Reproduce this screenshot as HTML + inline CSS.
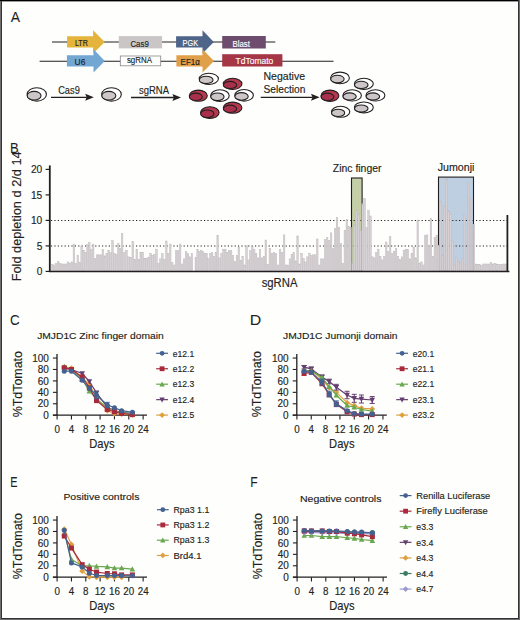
<!DOCTYPE html><html><head><meta charset="utf-8"><style>html,body{margin:0;padding:0;background:#fff;overflow:hidden}svg{display:block}</style></head><body><svg width="520" height="620" viewBox="0 0 520 620" font-family='"Liberation Sans", sans-serif'>
<rect x="0" y="0" width="520" height="620" fill="#fefefd"/>
<text x="10.8" y="21.8" font-size="15.3" fill="#231f20" textLength="9.3" lengthAdjust="spacingAndGlyphs" stroke="#231f20" stroke-width="0.05">A</text>
<line x1="52" y1="42" x2="275.3" y2="42" stroke="#231f20" stroke-width="1.1"/>
<line x1="39.6" y1="61.2" x2="333.5" y2="61.2" stroke="#231f20" stroke-width="1.1"/>
<polygon points="67.1,36.3 93.1,36.3 93.1,30.299999999999997 104.8,41.9 93.1,53.5 93.1,47.5 67.1,47.5" fill="#e4b43c"/>
<polygon points="176.1,36.199999999999996 202.5,36.199999999999996 202.5,30.299999999999997 213.8,41.9 202.5,53.5 202.5,47.6 176.1,47.6" fill="#4e6488"/>
<polygon points="66.9,55.3 93.5,55.3 93.5,49.3 104.8,60.9 93.5,72.5 93.5,66.5 66.9,66.5" fill="#72a6d3"/>
<polygon points="176.4,55.3 202.5,55.3 202.5,49.3 214.0,60.9 202.5,72.5 202.5,66.5 176.4,66.5" fill="#e0a04a"/>
<rect x="118.8" y="36.1" width="43.3" height="12.3" fill="#cac5c7"/>
<rect x="120.3" y="56" width="40.4" height="9.8" fill="#ffffff" stroke="#8a8586" stroke-width="0.8"/>
<rect x="222.2" y="36.0" width="43.6" height="12.5" fill="#6d4c6e"/>
<rect x="222.2" y="54.2" width="60.2" height="12.3" fill="#a43646"/>
<text x="74.9" y="46.2" font-size="9.2" fill="#231f20" textLength="13.0" lengthAdjust="spacingAndGlyphs" stroke="#231f20" stroke-width="0.15">LTR</text>
<text x="130.4" y="46.5" font-size="9.2" fill="#231f20" textLength="18.4" lengthAdjust="spacingAndGlyphs" stroke="#231f20" stroke-width="0.15">Cas9</text>
<text x="182.6" y="46.2" font-size="9.2" fill="#ffffff" textLength="15.4" lengthAdjust="spacingAndGlyphs" stroke="#ffffff" stroke-width="0.15">PGK</text>
<text x="232.5" y="46.5" font-size="9.2" fill="#ffffff" textLength="17.4" lengthAdjust="spacingAndGlyphs" stroke="#ffffff" stroke-width="0.15">Blast</text>
<text x="74.6" y="64.5" font-size="9.2" fill="#231f20" textLength="10.8" lengthAdjust="spacingAndGlyphs" stroke="#231f20" stroke-width="0.15">U6</text>
<text x="126.9" y="63.2" font-size="9.2" fill="#231f20" textLength="25.2" lengthAdjust="spacingAndGlyphs" stroke="#231f20" stroke-width="0.15">sgRNA</text>
<text x="180.6" y="64.7" font-size="9.2" fill="#231f20" textLength="19.2" lengthAdjust="spacingAndGlyphs" stroke="#231f20" stroke-width="0.15">EF1α</text>
<text x="235.6" y="64.3" font-size="9.2" fill="#ffffff" textLength="37.6" lengthAdjust="spacingAndGlyphs" stroke="#ffffff" stroke-width="0.15">TdTomato</text>
<line x1="51" y1="97.3" x2="86.8" y2="97.3" stroke="#231f20" stroke-width="1.3"/>
<polygon points="85.2,93.8 93.8,97.3 85.2,100.8 86.6,97.3" fill="#231f20"/>
<line x1="131" y1="97.5" x2="174" y2="97.5" stroke="#231f20" stroke-width="1.3"/>
<polygon points="172.4,94.0 181,97.5 172.4,101.0 173.8,97.5" fill="#231f20"/>
<line x1="260.7" y1="97.3" x2="312.6" y2="97.3" stroke="#231f20" stroke-width="1.3"/>
<polygon points="311.0,93.8 319.6,97.3 311.0,100.8 312.40000000000003,97.3" fill="#231f20"/>
<text x="58.2" y="93.5" font-size="10.2" fill="#231f20" textLength="21.6" lengthAdjust="spacingAndGlyphs" stroke="#231f20" stroke-width="0.15">Cas9</text>
<text x="139" y="93.5" font-size="10.2" fill="#231f20" textLength="30" lengthAdjust="spacingAndGlyphs" stroke="#231f20" stroke-width="0.15">sgRNA</text>
<text x="263.5" y="80.1" font-size="10.2" fill="#231f20" textLength="41.5" lengthAdjust="spacingAndGlyphs" stroke="#231f20" stroke-width="0.15">Negative</text>
<text x="263.5" y="92.6" font-size="10.2" fill="#231f20" textLength="41.9" lengthAdjust="spacingAndGlyphs" stroke="#231f20" stroke-width="0.15">Selection</text>
<ellipse cx="36.75" cy="94.40" rx="9.65" ry="6.70" fill="#ffffff" stroke="#231f20" stroke-width="1.1"/>
<ellipse cx="34.11" cy="95.70" rx="6.90" ry="4.32" fill="#ccc6c9" stroke="#231f20" stroke-width="1.1"/>
<ellipse cx="111.50" cy="94.40" rx="9.80" ry="6.70" fill="#ffffff" stroke="#231f20" stroke-width="1.1"/>
<ellipse cx="108.82" cy="95.70" rx="7.00" ry="4.32" fill="#ccc6c9" stroke="#231f20" stroke-width="1.1"/>
<ellipse cx="208.80" cy="78.85" rx="9.60" ry="5.65" fill="#ffffff" stroke="#231f20" stroke-width="1.1"/>
<ellipse cx="206.17" cy="79.96" rx="6.87" ry="3.69" fill="#ccc6c9" stroke="#231f20" stroke-width="1.1"/>
<ellipse cx="232.60" cy="83.90" rx="9.30" ry="5.60" fill="#b5384e" stroke="#231f20" stroke-width="1.1"/>
<ellipse cx="230.05" cy="85.00" rx="6.66" ry="3.66" fill="#a8304a" stroke="#231f20" stroke-width="1.1"/>
<ellipse cx="198.30" cy="95.70" rx="9.00" ry="5.60" fill="#b5384e" stroke="#231f20" stroke-width="1.1"/>
<ellipse cx="195.83" cy="96.80" rx="6.46" ry="3.66" fill="#a8304a" stroke="#231f20" stroke-width="1.1"/>
<ellipse cx="219.95" cy="95.65" rx="9.25" ry="5.85" fill="#ffffff" stroke="#231f20" stroke-width="1.1"/>
<ellipse cx="217.41" cy="96.79" rx="6.63" ry="3.81" fill="#ccc6c9" stroke="#231f20" stroke-width="1.1"/>
<ellipse cx="244.10" cy="95.30" rx="9.30" ry="5.80" fill="#ffffff" stroke="#231f20" stroke-width="1.1"/>
<ellipse cx="241.55" cy="96.43" rx="6.66" ry="3.78" fill="#ccc6c9" stroke="#231f20" stroke-width="1.1"/>
<ellipse cx="209.85" cy="112.60" rx="9.25" ry="5.80" fill="#b5384e" stroke="#231f20" stroke-width="1.1"/>
<ellipse cx="207.31" cy="113.73" rx="6.63" ry="3.78" fill="#a8304a" stroke="#231f20" stroke-width="1.1"/>
<ellipse cx="232.60" cy="107.70" rx="9.30" ry="5.60" fill="#b5384e" stroke="#231f20" stroke-width="1.1"/>
<ellipse cx="230.05" cy="108.80" rx="6.66" ry="3.66" fill="#a8304a" stroke="#231f20" stroke-width="1.1"/>
<ellipse cx="329.95" cy="95.75" rx="8.95" ry="5.65" fill="#b5384e" stroke="#231f20" stroke-width="1.1"/>
<ellipse cx="327.49" cy="96.86" rx="6.43" ry="3.69" fill="#a8304a" stroke="#231f20" stroke-width="1.1"/>
<ellipse cx="340.00" cy="77.90" rx="9.40" ry="5.80" fill="#ffffff" stroke="#231f20" stroke-width="1.1"/>
<ellipse cx="337.43" cy="79.03" rx="6.73" ry="3.78" fill="#ccc6c9" stroke="#231f20" stroke-width="1.1"/>
<ellipse cx="363.85" cy="83.85" rx="9.45" ry="5.55" fill="#ffffff" stroke="#231f20" stroke-width="1.1"/>
<ellipse cx="361.26" cy="84.94" rx="6.77" ry="3.63" fill="#ccc6c9" stroke="#231f20" stroke-width="1.1"/>
<ellipse cx="352.15" cy="95.40" rx="9.25" ry="5.60" fill="#ffffff" stroke="#231f20" stroke-width="1.1"/>
<ellipse cx="349.61" cy="96.50" rx="6.63" ry="3.66" fill="#ccc6c9" stroke="#231f20" stroke-width="1.1"/>
<ellipse cx="375.45" cy="95.40" rx="9.45" ry="5.60" fill="#ffffff" stroke="#231f20" stroke-width="1.1"/>
<ellipse cx="372.86" cy="96.50" rx="6.77" ry="3.66" fill="#ccc6c9" stroke="#231f20" stroke-width="1.1"/>
<ellipse cx="340.60" cy="111.80" rx="9.20" ry="5.50" fill="#ffffff" stroke="#231f20" stroke-width="1.1"/>
<ellipse cx="338.08" cy="112.88" rx="6.60" ry="3.60" fill="#ccc6c9" stroke="#231f20" stroke-width="1.1"/>
<ellipse cx="363.85" cy="107.45" rx="9.45" ry="5.45" fill="#ffffff" stroke="#231f20" stroke-width="1.1"/>
<ellipse cx="361.26" cy="108.52" rx="6.77" ry="3.57" fill="#ccc6c9" stroke="#231f20" stroke-width="1.1"/>
<text x="10.0" y="153.2" font-size="15.3" fill="#231f20" textLength="8.7" lengthAdjust="spacingAndGlyphs" stroke="#231f20" stroke-width="0.05">B</text>
<rect x="351.5" y="178" width="10.6" height="93.10000000000002" fill="#c4cfa7" stroke="#231f20" stroke-width="1.1"/>
<rect x="438.5" y="177.1" width="35.0" height="94.00000000000003" fill="#bfcfe2" stroke="#231f20" stroke-width="1.1"/>
<line x1="51" y1="246.0" x2="507" y2="246.0" stroke="#231f20" stroke-width="1" stroke-dasharray="1.2 2.2"/>
<line x1="51" y1="220.5" x2="507" y2="220.5" stroke="#231f20" stroke-width="1" stroke-dasharray="1.2 2.2"/>
<g fill="#d6d1d4" stroke="#bfb9bc" stroke-width="0.45"><rect x="51.52" y="264.47" width="1.56" height="6.63"/><rect x="53.48" y="264.98" width="1.56" height="6.12"/><rect x="55.45" y="263.45" width="1.56" height="7.65"/><rect x="57.41" y="261.41" width="1.56" height="9.69"/><rect x="59.37" y="263.45" width="1.56" height="7.65"/><rect x="61.34" y="263.96" width="1.56" height="7.14"/><rect x="63.30" y="263.96" width="1.56" height="7.14"/><rect x="65.26" y="263.96" width="1.56" height="7.14"/><rect x="67.23" y="261.92" width="1.56" height="9.18"/><rect x="69.19" y="262.94" width="1.56" height="8.16"/><rect x="71.15" y="261.92" width="1.56" height="9.18"/><rect x="73.13" y="244.07" width="1.55" height="27.03"/><rect x="75.06" y="263.45" width="1.53" height="7.65"/><rect x="76.99" y="255.29" width="1.53" height="15.81"/><rect x="78.92" y="262.43" width="1.53" height="8.67"/><rect x="80.85" y="246.11" width="1.53" height="24.99"/><rect x="82.78" y="250.19" width="1.53" height="20.91"/><rect x="84.70" y="252.23" width="1.53" height="18.87"/><rect x="86.63" y="244.58" width="1.53" height="26.52"/><rect x="88.56" y="242.54" width="1.53" height="28.56"/><rect x="90.49" y="249.17" width="1.53" height="21.93"/><rect x="92.42" y="244.07" width="1.53" height="27.03"/><rect x="94.34" y="258.35" width="1.53" height="12.75"/><rect x="96.27" y="254.78" width="1.53" height="16.32"/><rect x="98.20" y="254.78" width="1.53" height="16.32"/><rect x="100.13" y="254.78" width="1.53" height="16.32"/><rect x="102.06" y="249.68" width="1.53" height="21.42"/><rect x="103.98" y="255.80" width="1.53" height="15.30"/><rect x="105.91" y="253.76" width="1.53" height="17.34"/><rect x="107.84" y="250.19" width="1.53" height="20.91"/><rect x="109.77" y="252.74" width="1.53" height="18.36"/><rect x="111.70" y="240.50" width="1.53" height="30.60"/><rect x="113.62" y="253.25" width="1.53" height="17.85"/><rect x="115.55" y="254.27" width="1.53" height="16.83"/><rect x="117.48" y="243.56" width="1.53" height="27.54"/><rect x="119.41" y="248.15" width="1.53" height="22.95"/><rect x="121.28" y="233.36" width="1.63" height="37.74"/><rect x="123.37" y="252.23" width="1.74" height="18.87"/><rect x="125.51" y="250.19" width="1.74" height="20.91"/><rect x="127.65" y="256.82" width="1.74" height="14.28"/><rect x="129.79" y="257.33" width="1.74" height="13.77"/><rect x="131.97" y="241.52" width="1.66" height="29.58"/><rect x="133.99" y="259.37" width="1.57" height="11.73"/><rect x="135.96" y="249.17" width="1.57" height="21.93"/><rect x="137.93" y="259.37" width="1.57" height="11.73"/><rect x="139.90" y="252.23" width="1.57" height="18.87"/><rect x="141.87" y="252.23" width="1.57" height="18.87"/><rect x="143.84" y="258.35" width="1.57" height="12.75"/><rect x="145.81" y="258.35" width="1.57" height="12.75"/><rect x="147.78" y="257.33" width="1.57" height="13.77"/><rect x="149.75" y="253.25" width="1.57" height="17.85"/><rect x="151.72" y="255.29" width="1.57" height="15.81"/><rect x="153.70" y="254.27" width="1.57" height="16.83"/><rect x="155.67" y="249.17" width="1.57" height="21.93"/><rect x="157.64" y="263.45" width="1.57" height="7.65"/><rect x="159.61" y="258.86" width="1.57" height="12.24"/><rect x="161.58" y="253.76" width="1.57" height="17.34"/><rect x="163.55" y="259.37" width="1.57" height="11.73"/><rect x="165.52" y="241.01" width="1.57" height="30.09"/><rect x="167.49" y="253.25" width="1.57" height="17.85"/><rect x="169.46" y="244.07" width="1.57" height="27.03"/><rect x="171.43" y="262.43" width="1.57" height="8.67"/><rect x="173.40" y="264.98" width="1.57" height="6.12"/><rect x="175.38" y="250.70" width="1.57" height="20.40"/><rect x="177.35" y="250.70" width="1.57" height="20.40"/><rect x="179.32" y="244.07" width="1.57" height="27.03"/><rect x="181.29" y="263.96" width="1.57" height="7.14"/><rect x="183.26" y="258.86" width="1.57" height="12.24"/><rect x="185.23" y="251.72" width="1.57" height="19.38"/><rect x="187.20" y="253.76" width="1.57" height="17.34"/><rect x="189.17" y="256.82" width="1.57" height="14.28"/><rect x="191.14" y="253.76" width="1.57" height="17.34"/><rect x="195.01" y="257.33" width="1.42" height="13.77"/><rect x="196.83" y="249.68" width="1.42" height="21.42"/><rect x="198.66" y="251.72" width="1.42" height="19.38"/><rect x="200.48" y="250.19" width="1.42" height="20.91"/><rect x="202.30" y="251.72" width="1.42" height="19.38"/><rect x="204.13" y="253.25" width="1.42" height="17.85"/><rect x="205.95" y="253.76" width="1.42" height="17.34"/><rect x="207.77" y="258.35" width="1.42" height="12.75"/><rect x="209.60" y="253.25" width="1.42" height="17.85"/><rect x="211.42" y="252.74" width="1.42" height="18.36"/><rect x="213.24" y="256.31" width="1.42" height="14.79"/><rect x="215.07" y="252.23" width="1.42" height="18.87"/><rect x="216.86" y="235.40" width="1.48" height="35.70"/><rect x="218.76" y="257.84" width="1.53" height="13.26"/><rect x="220.69" y="253.76" width="1.53" height="17.34"/><rect x="222.62" y="249.17" width="1.53" height="21.93"/><rect x="224.55" y="249.17" width="1.53" height="21.93"/><rect x="226.48" y="252.23" width="1.53" height="18.87"/><rect x="228.40" y="250.70" width="1.53" height="20.40"/><rect x="230.33" y="250.70" width="1.53" height="20.40"/><rect x="232.26" y="255.29" width="1.53" height="15.81"/><rect x="234.19" y="261.41" width="1.53" height="9.69"/><rect x="236.12" y="255.29" width="1.53" height="15.81"/><rect x="238.04" y="247.13" width="1.53" height="23.97"/><rect x="239.97" y="260.39" width="1.53" height="10.71"/><rect x="241.90" y="256.31" width="1.53" height="14.79"/><rect x="243.83" y="264.98" width="1.53" height="6.12"/><rect x="245.76" y="245.60" width="1.53" height="25.50"/><rect x="247.68" y="259.88" width="1.53" height="11.22"/><rect x="249.61" y="250.70" width="1.53" height="20.40"/><rect x="251.54" y="246.62" width="1.53" height="24.48"/><rect x="253.47" y="249.68" width="1.53" height="21.42"/><rect x="255.40" y="253.25" width="1.53" height="17.85"/><rect x="257.32" y="257.84" width="1.53" height="13.26"/><rect x="259.25" y="249.68" width="1.53" height="21.42"/><rect x="261.18" y="257.84" width="1.53" height="13.26"/><rect x="263.11" y="256.31" width="1.53" height="14.79"/><rect x="265.01" y="239.99" width="1.58" height="31.11"/><rect x="267.02" y="264.47" width="1.63" height="6.63"/><rect x="269.05" y="248.15" width="1.63" height="22.95"/><rect x="271.08" y="253.25" width="1.63" height="17.85"/><rect x="273.12" y="252.23" width="1.63" height="18.87"/><rect x="275.15" y="253.76" width="1.63" height="17.34"/><rect x="277.18" y="264.98" width="1.63" height="6.12"/><rect x="279.22" y="249.68" width="1.63" height="21.42"/><rect x="281.25" y="252.23" width="1.63" height="18.87"/><rect x="283.31" y="234.89" width="1.58" height="36.21"/><rect x="285.26" y="264.98" width="1.53" height="6.12"/><rect x="287.19" y="264.98" width="1.53" height="6.12"/><rect x="289.12" y="258.86" width="1.53" height="12.24"/><rect x="291.05" y="254.27" width="1.53" height="16.83"/><rect x="292.98" y="252.74" width="1.53" height="18.36"/><rect x="294.91" y="260.90" width="1.53" height="10.20"/><rect x="296.83" y="235.91" width="1.55" height="35.19"/><rect x="298.78" y="263.96" width="1.57" height="7.14"/><rect x="300.75" y="253.25" width="1.57" height="17.85"/><rect x="302.72" y="258.35" width="1.57" height="12.75"/><rect x="304.69" y="261.92" width="1.57" height="9.18"/><rect x="306.66" y="256.82" width="1.57" height="14.28"/><rect x="308.63" y="253.25" width="1.57" height="17.85"/><rect x="310.60" y="255.29" width="1.57" height="15.81"/><rect x="312.57" y="254.78" width="1.57" height="16.32"/><rect x="314.54" y="254.78" width="1.57" height="16.32"/><rect x="316.50" y="238.97" width="1.57" height="32.13"/><rect x="318.47" y="264.98" width="1.57" height="6.12"/><rect x="320.44" y="258.86" width="1.57" height="12.24"/><rect x="322.41" y="258.86" width="1.57" height="12.24"/><rect x="324.38" y="239.48" width="1.57" height="31.62"/><rect x="326.35" y="237.44" width="1.57" height="33.66"/><rect x="328.32" y="240.50" width="1.57" height="30.60"/><rect x="330.29" y="232.85" width="1.57" height="38.25"/><rect x="332.25" y="248.15" width="1.57" height="22.95"/><rect x="334.22" y="228.77" width="1.57" height="42.33"/><rect x="336.19" y="217.55" width="1.57" height="53.55"/><rect x="338.16" y="227.24" width="1.57" height="43.86"/><rect x="340.13" y="243.56" width="1.57" height="27.54"/><rect x="342.10" y="263.45" width="1.57" height="7.65"/><rect x="344.07" y="230.30" width="1.57" height="40.80"/><rect x="346.04" y="219.59" width="1.57" height="51.51"/><rect x="348.01" y="226.73" width="1.57" height="44.37"/><rect x="349.97" y="227.24" width="1.57" height="43.86"/><rect x="351.94" y="262.94" width="1.57" height="8.16"/><rect x="353.91" y="225.71" width="1.57" height="45.39"/><rect x="355.88" y="209.90" width="1.57" height="61.20"/><rect x="357.85" y="213.98" width="1.57" height="57.12"/><rect x="359.82" y="230.30" width="1.57" height="40.80"/><rect x="361.79" y="203.78" width="1.57" height="67.32"/><rect x="363.76" y="198.68" width="1.57" height="72.42"/><rect x="365.73" y="227.75" width="1.57" height="43.35"/><rect x="367.69" y="210.41" width="1.57" height="60.69"/><rect x="369.66" y="216.02" width="1.57" height="55.08"/><rect x="371.63" y="256.82" width="1.57" height="14.28"/><rect x="373.60" y="257.84" width="1.57" height="13.26"/><rect x="375.57" y="252.23" width="1.57" height="18.87"/><rect x="377.54" y="249.17" width="1.57" height="21.93"/><rect x="379.51" y="256.31" width="1.57" height="14.79"/><rect x="381.48" y="259.88" width="1.57" height="11.22"/><rect x="383.45" y="256.31" width="1.57" height="14.79"/><rect x="385.41" y="242.03" width="1.57" height="29.07"/><rect x="387.38" y="251.72" width="1.57" height="19.38"/><rect x="389.35" y="236.42" width="1.57" height="34.68"/><rect x="391.32" y="253.76" width="1.57" height="17.34"/><rect x="393.29" y="251.21" width="1.57" height="19.89"/><rect x="395.26" y="248.66" width="1.57" height="22.44"/><rect x="397.23" y="256.31" width="1.57" height="14.79"/><rect x="399.20" y="259.37" width="1.57" height="11.73"/><rect x="401.16" y="256.82" width="1.57" height="14.28"/><rect x="403.13" y="250.19" width="1.57" height="20.91"/><rect x="405.10" y="249.17" width="1.57" height="21.93"/><rect x="407.07" y="249.17" width="1.57" height="21.93"/><rect x="409.04" y="258.86" width="1.57" height="12.24"/><rect x="411.01" y="253.25" width="1.57" height="17.85"/><rect x="412.98" y="247.13" width="1.57" height="23.97"/><rect x="414.95" y="257.84" width="1.57" height="13.26"/><rect x="416.94" y="220.10" width="1.53" height="51.00"/><rect x="418.84" y="263.45" width="1.49" height="7.65"/><rect x="420.73" y="261.92" width="1.49" height="9.18"/><rect x="422.61" y="264.98" width="1.49" height="6.12"/><rect x="424.50" y="235.40" width="1.49" height="35.70"/><rect x="426.39" y="234.89" width="1.49" height="36.21"/><rect x="428.27" y="246.11" width="1.49" height="24.99"/><rect x="430.14" y="218.57" width="1.52" height="52.53"/><rect x="432.08" y="256.31" width="1.56" height="14.79"/><rect x="434.04" y="237.44" width="1.56" height="33.66"/><rect x="436.01" y="235.40" width="1.56" height="35.70"/><rect x="437.97" y="245.60" width="1.56" height="25.50"/><rect x="439.93" y="201.23" width="1.56" height="69.87"/><rect x="441.89" y="254.78" width="1.56" height="16.32"/><rect x="443.86" y="205.82" width="1.56" height="65.28"/><rect x="445.82" y="178.79" width="1.56" height="92.31"/><rect x="447.78" y="210.92" width="1.56" height="60.18"/><rect x="449.75" y="213.98" width="1.56" height="57.12"/><rect x="451.71" y="241.01" width="1.56" height="30.09"/><rect x="453.67" y="264.98" width="1.56" height="6.12"/><rect x="455.64" y="257.84" width="1.56" height="13.26"/><rect x="457.60" y="261.41" width="1.56" height="9.69"/><rect x="459.56" y="262.43" width="1.56" height="8.67"/><rect x="461.53" y="258.86" width="1.56" height="12.24"/><rect x="463.49" y="215.00" width="1.56" height="56.10"/><rect x="465.45" y="264.98" width="1.56" height="6.12"/><rect x="467.44" y="181.85" width="1.53" height="89.25"/><rect x="469.34" y="198.17" width="1.49" height="72.93"/><rect x="471.24" y="226.73" width="1.49" height="44.37"/><rect x="473.12" y="224.18" width="1.49" height="46.92"/><rect x="475.01" y="263.96" width="1.49" height="7.14"/><rect x="476.90" y="264.47" width="1.49" height="6.63"/><rect x="478.79" y="264.47" width="1.49" height="6.63"/><rect x="480.69" y="265.49" width="1.49" height="5.61"/><rect x="482.57" y="263.96" width="1.49" height="7.14"/><rect x="484.46" y="263.96" width="1.49" height="7.14"/><rect x="486.36" y="263.96" width="1.49" height="7.14"/><rect x="488.25" y="263.96" width="1.49" height="7.14"/><rect x="490.13" y="262.43" width="1.49" height="8.67"/><rect x="492.02" y="263.96" width="1.49" height="7.14"/><rect x="493.91" y="263.45" width="1.49" height="7.65"/><rect x="495.81" y="263.96" width="1.49" height="7.14"/><rect x="497.69" y="264.47" width="1.49" height="6.63"/><rect x="499.58" y="264.47" width="1.49" height="6.63"/><rect x="501.48" y="264.47" width="1.49" height="6.63"/><rect x="503.37" y="263.96" width="1.49" height="7.14"/><rect x="505.25" y="263.96" width="1.49" height="7.14"/></g>
<line x1="49.8" y1="165.4" x2="49.8" y2="271.70000000000005" stroke="#231f20" stroke-width="1.8"/>
<line x1="49" y1="271.5" x2="509.4" y2="271.5" stroke="#231f20" stroke-width="1.3"/>
<line x1="507.4" y1="215" x2="507.4" y2="271.1" stroke="#231f20" stroke-width="1.8"/>
<line x1="45.6" y1="271.4" x2="50" y2="271.4" stroke="#231f20" stroke-width="1.2"/>
<text x="42.3" y="275.00000000000006" font-size="10.2" fill="#231f20" text-anchor="end" stroke="#231f20" stroke-width="0.15">0</text>
<line x1="45.6" y1="245.9" x2="50" y2="245.9" stroke="#231f20" stroke-width="1.2"/>
<text x="42.3" y="249.50000000000003" font-size="10.2" fill="#231f20" text-anchor="end" stroke="#231f20" stroke-width="0.15">5</text>
<line x1="45.6" y1="220.4" x2="50" y2="220.4" stroke="#231f20" stroke-width="1.2"/>
<text x="42.3" y="224.00000000000003" font-size="10.2" fill="#231f20" text-anchor="end" stroke="#231f20" stroke-width="0.15">10</text>
<line x1="45.6" y1="194.9" x2="50" y2="194.9" stroke="#231f20" stroke-width="1.2"/>
<text x="42.3" y="198.50000000000003" font-size="10.2" fill="#231f20" text-anchor="end" stroke="#231f20" stroke-width="0.15">15</text>
<line x1="45.6" y1="169.4" x2="50" y2="169.4" stroke="#231f20" stroke-width="1.2"/>
<text x="42.3" y="173.00000000000003" font-size="10.2" fill="#231f20" text-anchor="end" stroke="#231f20" stroke-width="0.15">20</text>
<text transform="translate(21.4,281.3) rotate(-90)" font-size="13" fill="#231f20" stroke="#231f20" stroke-width="0.15" textLength="130" lengthAdjust="spacingAndGlyphs">Fold depletion d 2/d 14</text>
<text x="332.8" y="172.3" font-size="10" fill="#231f20" textLength="48.7" lengthAdjust="spacingAndGlyphs" stroke="#231f20" stroke-width="0.15">Zinc finger</text>
<text x="437.7" y="171.3" font-size="10" fill="#231f20" textLength="36.7" lengthAdjust="spacingAndGlyphs" stroke="#231f20" stroke-width="0.15">Jumonji</text>
<text x="261.7" y="287.2" font-size="12.3" fill="#231f20" textLength="35.8" lengthAdjust="spacingAndGlyphs" stroke="#231f20" stroke-width="0.15">sgRNA</text>
<text x="9.9" y="325.1" font-size="15.3" fill="#231f20" textLength="9.65" lengthAdjust="spacingAndGlyphs" stroke="#231f20" stroke-width="0.05">C</text>
<text x="37.2" y="338.8" font-size="9.5" fill="#231f20" textLength="126.5" lengthAdjust="spacingAndGlyphs" stroke="#231f20" stroke-width="0.15">JMJD1C Zinc finger domain</text>
<line x1="57.0" y1="354.0" x2="57.0" y2="415.8" stroke="#231f20" stroke-width="1.3"/>
<line x1="52.9" y1="415.2" x2="147.0" y2="415.2" stroke="#231f20" stroke-width="1.3"/>
<line x1="52.9" y1="415.20" x2="57.0" y2="415.20" stroke="#231f20" stroke-width="1.1"/>
<text x="48.8" y="418.8" font-size="10" fill="#231f20" text-anchor="end" textLength="5.55" lengthAdjust="spacingAndGlyphs" stroke="#231f20" stroke-width="0.15">0</text>
<line x1="52.9" y1="403.77" x2="57.0" y2="403.77" stroke="#231f20" stroke-width="1.1"/>
<text x="48.8" y="407.37" font-size="10" fill="#231f20" text-anchor="end" textLength="11.1" lengthAdjust="spacingAndGlyphs" stroke="#231f20" stroke-width="0.15">20</text>
<line x1="52.9" y1="392.34" x2="57.0" y2="392.34" stroke="#231f20" stroke-width="1.1"/>
<text x="48.8" y="395.94" font-size="10" fill="#231f20" text-anchor="end" textLength="11.1" lengthAdjust="spacingAndGlyphs" stroke="#231f20" stroke-width="0.15">40</text>
<line x1="52.9" y1="380.91" x2="57.0" y2="380.91" stroke="#231f20" stroke-width="1.1"/>
<text x="48.8" y="384.51" font-size="10" fill="#231f20" text-anchor="end" textLength="11.1" lengthAdjust="spacingAndGlyphs" stroke="#231f20" stroke-width="0.15">60</text>
<line x1="52.9" y1="369.48" x2="57.0" y2="369.48" stroke="#231f20" stroke-width="1.1"/>
<text x="48.8" y="373.08000000000004" font-size="10" fill="#231f20" text-anchor="end" textLength="11.1" lengthAdjust="spacingAndGlyphs" stroke="#231f20" stroke-width="0.15">80</text>
<line x1="52.9" y1="358.05" x2="57.0" y2="358.05" stroke="#231f20" stroke-width="1.1"/>
<text x="48.8" y="361.65000000000003" font-size="10" fill="#231f20" text-anchor="end" textLength="16.65" lengthAdjust="spacingAndGlyphs" stroke="#231f20" stroke-width="0.15">100</text>
<line x1="57.10" y1="415.2" x2="57.10" y2="419.4" stroke="#231f20" stroke-width="1.1"/>
<text x="57.1" y="432.8" font-size="10" fill="#231f20" text-anchor="middle" textLength="5.45" lengthAdjust="spacingAndGlyphs" stroke="#231f20" stroke-width="0.15">0</text>
<line x1="71.44" y1="415.2" x2="71.44" y2="419.4" stroke="#231f20" stroke-width="1.1"/>
<text x="71.44" y="432.8" font-size="10" fill="#231f20" text-anchor="middle" textLength="5.45" lengthAdjust="spacingAndGlyphs" stroke="#231f20" stroke-width="0.15">4</text>
<line x1="85.78" y1="415.2" x2="85.78" y2="419.4" stroke="#231f20" stroke-width="1.1"/>
<text x="85.78" y="432.8" font-size="10" fill="#231f20" text-anchor="middle" textLength="5.45" lengthAdjust="spacingAndGlyphs" stroke="#231f20" stroke-width="0.15">8</text>
<line x1="100.12" y1="415.2" x2="100.12" y2="419.4" stroke="#231f20" stroke-width="1.1"/>
<text x="100.12" y="432.8" font-size="10" fill="#231f20" text-anchor="middle" textLength="10.9" lengthAdjust="spacingAndGlyphs" stroke="#231f20" stroke-width="0.15">12</text>
<line x1="114.46" y1="415.2" x2="114.46" y2="419.4" stroke="#231f20" stroke-width="1.1"/>
<text x="114.46000000000001" y="432.8" font-size="10" fill="#231f20" text-anchor="middle" textLength="10.9" lengthAdjust="spacingAndGlyphs" stroke="#231f20" stroke-width="0.15">16</text>
<line x1="128.80" y1="415.2" x2="128.80" y2="419.4" stroke="#231f20" stroke-width="1.1"/>
<text x="128.8" y="432.8" font-size="10" fill="#231f20" text-anchor="middle" textLength="10.9" lengthAdjust="spacingAndGlyphs" stroke="#231f20" stroke-width="0.15">20</text>
<line x1="143.14" y1="415.2" x2="143.14" y2="419.4" stroke="#231f20" stroke-width="1.1"/>
<text x="143.14" y="432.8" font-size="10" fill="#231f20" text-anchor="middle" textLength="10.9" lengthAdjust="spacingAndGlyphs" stroke="#231f20" stroke-width="0.15">24</text>
<text x="89.3" y="447.7" font-size="12.7" fill="#231f20" textLength="25.4" lengthAdjust="spacingAndGlyphs" stroke="#231f20" stroke-width="0.15">Days</text>
<text transform="translate(21.6,417.3) rotate(-90)" font-size="12" fill="#231f20" stroke="#231f20" stroke-width="0.15" textLength="66.2" lengthAdjust="spacingAndGlyphs">%TdTomato</text>
<polyline points="64.27,367.19 71.44,368.34 82.19,378.05 89.37,384.34 96.53,398.06 107.29,410.63 114.46,413.49 121.63,414.06 132.38,414.63" fill="none" stroke="#e0a040" stroke-width="1.2" stroke-linejoin="round"/>
<polygon points="64.27,364.19 67.27,367.19 64.27,370.19 61.27,367.19" fill="#e0a040"/><polygon points="71.44,365.34 74.44,368.34 71.44,371.34 68.44,368.34" fill="#e0a040"/><polygon points="82.19,375.05 85.19,378.05 82.19,381.05 79.19,378.05" fill="#e0a040"/><polygon points="89.37,381.34 92.37,384.34 89.37,387.34 86.37,384.34" fill="#e0a040"/><polygon points="96.53,395.06 99.53,398.06 96.53,401.06 93.53,398.06" fill="#e0a040"/><polygon points="107.29,407.63 110.29,410.63 107.29,413.63 104.29,410.63" fill="#e0a040"/><polygon points="114.46,410.49 117.46,413.49 114.46,416.49 111.46,413.49" fill="#e0a040"/><polygon points="121.63,411.06 124.63,414.06 121.63,417.06 118.63,414.06" fill="#e0a040"/><polygon points="132.38,411.63 135.38,414.63 132.38,417.63 129.38,414.63" fill="#e0a040"/>
<polyline points="64.27,368.34 71.44,369.48 82.19,373.48 89.37,381.48 96.53,392.91 107.29,407.20 114.46,410.63 121.63,412.34 132.38,413.49" fill="none" stroke="#643f70" stroke-width="1.2" stroke-linejoin="round"/>
<polygon points="64.27,371.24 67.07,366.04 61.47,366.04" fill="#643f70"/><polygon points="71.44,372.38 74.24,367.18 68.64,367.18" fill="#643f70"/><polygon points="82.19,376.38 84.99,371.18 79.39,371.18" fill="#643f70"/><polygon points="89.37,384.38 92.17,379.18 86.57,379.18" fill="#643f70"/><polygon points="96.53,395.81 99.33,390.61 93.73,390.61" fill="#643f70"/><polygon points="107.29,410.10 110.09,404.90 104.49,404.90" fill="#643f70"/><polygon points="114.46,413.53 117.26,408.33 111.66,408.33" fill="#643f70"/><polygon points="121.63,415.24 124.43,410.04 118.83,410.04" fill="#643f70"/><polygon points="132.38,416.39 135.19,411.19 129.58,411.19" fill="#643f70"/>
<polyline points="64.27,366.62 71.44,369.48 82.19,379.20 89.37,391.20 96.53,399.20 107.29,407.77 114.46,411.20 121.63,412.91 132.38,414.06" fill="none" stroke="#6aa84f" stroke-width="1.2" stroke-linejoin="round"/>
<polygon points="64.27,363.72 67.07,368.92 61.47,368.92" fill="#6aa84f"/><polygon points="71.44,366.58 74.24,371.78 68.64,371.78" fill="#6aa84f"/><polygon points="82.19,376.30 84.99,381.50 79.39,381.50" fill="#6aa84f"/><polygon points="89.37,388.30 92.17,393.50 86.57,393.50" fill="#6aa84f"/><polygon points="96.53,396.30 99.33,401.50 93.73,401.50" fill="#6aa84f"/><polygon points="107.29,404.87 110.09,410.07 104.49,410.07" fill="#6aa84f"/><polygon points="114.46,408.30 117.26,413.50 111.66,413.50" fill="#6aa84f"/><polygon points="121.63,410.01 124.43,415.21 118.83,415.21" fill="#6aa84f"/><polygon points="132.38,411.16 135.19,416.36 129.58,416.36" fill="#6aa84f"/>
<polyline points="64.27,367.77 71.44,369.48 82.19,376.91 89.37,387.77 96.53,400.63 107.29,409.49 114.46,411.77 121.63,413.49 132.38,414.63" fill="none" stroke="#a82a3c" stroke-width="1.2" stroke-linejoin="round"/>
<rect x="61.77" y="365.27" width="5.00" height="5.00" fill="#a82a3c"/><rect x="68.94" y="366.98" width="5.00" height="5.00" fill="#a82a3c"/><rect x="79.69" y="374.41" width="5.00" height="5.00" fill="#a82a3c"/><rect x="86.87" y="385.27" width="5.00" height="5.00" fill="#a82a3c"/><rect x="94.03" y="398.13" width="5.00" height="5.00" fill="#a82a3c"/><rect x="104.79" y="406.99" width="5.00" height="5.00" fill="#a82a3c"/><rect x="111.96" y="409.27" width="5.00" height="5.00" fill="#a82a3c"/><rect x="119.13" y="410.99" width="5.00" height="5.00" fill="#a82a3c"/><rect x="129.88" y="412.13" width="5.00" height="5.00" fill="#a82a3c"/>
<polyline points="64.27,371.19 71.44,371.19 82.19,380.34 89.37,388.34 96.53,395.20 107.29,404.91 114.46,407.77 121.63,410.63 132.38,412.34" fill="none" stroke="#44618f" stroke-width="1.2" stroke-linejoin="round"/>
<path d="M82.19,379.20V381.48M79.69,379.20h5M79.69,381.48h5" stroke="#44618f" stroke-width="1" fill="none"/>
<path d="M89.37,386.62V390.05M86.87,386.62h5M86.87,390.05h5" stroke="#44618f" stroke-width="1" fill="none"/>
<path d="M96.53,391.77V398.63M94.03,391.77h5M94.03,398.63h5" stroke="#44618f" stroke-width="1" fill="none"/>
<path d="M107.29,402.34V407.48M104.79,402.34h5M104.79,407.48h5" stroke="#44618f" stroke-width="1" fill="none"/>
<circle cx="64.27" cy="371.19" r="2.5" fill="#44618f"/><circle cx="71.44" cy="371.19" r="2.5" fill="#44618f"/><circle cx="82.19" cy="380.34" r="2.5" fill="#44618f"/><circle cx="89.37" cy="388.34" r="2.5" fill="#44618f"/><circle cx="96.53" cy="395.20" r="2.5" fill="#44618f"/><circle cx="107.29" cy="404.91" r="2.5" fill="#44618f"/><circle cx="114.46" cy="407.77" r="2.5" fill="#44618f"/><circle cx="121.63" cy="410.63" r="2.5" fill="#44618f"/><circle cx="132.38" cy="412.34" r="2.5" fill="#44618f"/>
<line x1="156.2" y1="353.30" x2="168.0" y2="353.30" stroke="#44618f" stroke-width="1.2"/>
<circle cx="162.10" cy="353.30" r="2.4" fill="#44618f"/>
<text x="172.79999999999998" y="356.5" font-size="9.5" fill="#231f20" textLength="21.4" lengthAdjust="spacingAndGlyphs" stroke="#231f20" stroke-width="0.15">e12.1</text>
<line x1="156.2" y1="368.75" x2="168.0" y2="368.75" stroke="#a82a3c" stroke-width="1.2"/>
<rect x="159.70" y="366.35" width="4.80" height="4.80" fill="#a82a3c"/>
<text x="172.79999999999998" y="371.95" font-size="9.5" fill="#231f20" textLength="21.4" lengthAdjust="spacingAndGlyphs" stroke="#231f20" stroke-width="0.15">e12.2</text>
<line x1="156.2" y1="384.20" x2="168.0" y2="384.20" stroke="#6aa84f" stroke-width="1.2"/>
<polygon points="162.10,381.40 164.80,386.40 159.40,386.40" fill="#6aa84f"/>
<text x="172.79999999999998" y="387.4" font-size="9.5" fill="#231f20" textLength="21.4" lengthAdjust="spacingAndGlyphs" stroke="#231f20" stroke-width="0.15">e12.3</text>
<line x1="156.2" y1="399.65" x2="168.0" y2="399.65" stroke="#643f70" stroke-width="1.2"/>
<polygon points="162.10,402.45 164.80,397.45 159.40,397.45" fill="#643f70"/>
<text x="172.79999999999998" y="402.84999999999997" font-size="9.5" fill="#231f20" textLength="21.4" lengthAdjust="spacingAndGlyphs" stroke="#231f20" stroke-width="0.15">e12.4</text>
<line x1="156.2" y1="415.10" x2="168.0" y2="415.10" stroke="#e0a040" stroke-width="1.2"/>
<polygon points="162.10,412.20 165.00,415.10 162.10,418.00 159.20,415.10" fill="#e0a040"/>
<text x="172.79999999999998" y="418.3" font-size="9.5" fill="#231f20" textLength="21.4" lengthAdjust="spacingAndGlyphs" stroke="#231f20" stroke-width="0.15">e12.5</text>
<text x="249.85" y="325.0" font-size="15.3" fill="#231f20" textLength="11.5" lengthAdjust="spacingAndGlyphs" stroke="#231f20" stroke-width="0.05">D</text>
<text x="283.0" y="338.6" font-size="9.5" fill="#231f20" textLength="114.5" lengthAdjust="spacingAndGlyphs" stroke="#231f20" stroke-width="0.15">JMJD1C Jumonji domain</text>
<line x1="296.8" y1="354.0" x2="296.8" y2="415.8" stroke="#231f20" stroke-width="1.3"/>
<line x1="292.7" y1="415.2" x2="386.8" y2="415.2" stroke="#231f20" stroke-width="1.3"/>
<line x1="292.7" y1="415.20" x2="296.8" y2="415.20" stroke="#231f20" stroke-width="1.1"/>
<text x="288.6" y="418.8" font-size="10" fill="#231f20" text-anchor="end" textLength="5.55" lengthAdjust="spacingAndGlyphs" stroke="#231f20" stroke-width="0.15">0</text>
<line x1="292.7" y1="403.77" x2="296.8" y2="403.77" stroke="#231f20" stroke-width="1.1"/>
<text x="288.6" y="407.37" font-size="10" fill="#231f20" text-anchor="end" textLength="11.1" lengthAdjust="spacingAndGlyphs" stroke="#231f20" stroke-width="0.15">20</text>
<line x1="292.7" y1="392.34" x2="296.8" y2="392.34" stroke="#231f20" stroke-width="1.1"/>
<text x="288.6" y="395.94" font-size="10" fill="#231f20" text-anchor="end" textLength="11.1" lengthAdjust="spacingAndGlyphs" stroke="#231f20" stroke-width="0.15">40</text>
<line x1="292.7" y1="380.91" x2="296.8" y2="380.91" stroke="#231f20" stroke-width="1.1"/>
<text x="288.6" y="384.51" font-size="10" fill="#231f20" text-anchor="end" textLength="11.1" lengthAdjust="spacingAndGlyphs" stroke="#231f20" stroke-width="0.15">60</text>
<line x1="292.7" y1="369.48" x2="296.8" y2="369.48" stroke="#231f20" stroke-width="1.1"/>
<text x="288.6" y="373.08000000000004" font-size="10" fill="#231f20" text-anchor="end" textLength="11.1" lengthAdjust="spacingAndGlyphs" stroke="#231f20" stroke-width="0.15">80</text>
<line x1="292.7" y1="358.05" x2="296.8" y2="358.05" stroke="#231f20" stroke-width="1.1"/>
<text x="288.6" y="361.65000000000003" font-size="10" fill="#231f20" text-anchor="end" textLength="16.65" lengthAdjust="spacingAndGlyphs" stroke="#231f20" stroke-width="0.15">100</text>
<line x1="296.90" y1="415.2" x2="296.90" y2="419.4" stroke="#231f20" stroke-width="1.1"/>
<text x="296.90000000000003" y="432.8" font-size="10" fill="#231f20" text-anchor="middle" textLength="5.45" lengthAdjust="spacingAndGlyphs" stroke="#231f20" stroke-width="0.15">0</text>
<line x1="311.24" y1="415.2" x2="311.24" y2="419.4" stroke="#231f20" stroke-width="1.1"/>
<text x="311.24" y="432.8" font-size="10" fill="#231f20" text-anchor="middle" textLength="5.45" lengthAdjust="spacingAndGlyphs" stroke="#231f20" stroke-width="0.15">4</text>
<line x1="325.58" y1="415.2" x2="325.58" y2="419.4" stroke="#231f20" stroke-width="1.1"/>
<text x="325.58000000000004" y="432.8" font-size="10" fill="#231f20" text-anchor="middle" textLength="5.45" lengthAdjust="spacingAndGlyphs" stroke="#231f20" stroke-width="0.15">8</text>
<line x1="339.92" y1="415.2" x2="339.92" y2="419.4" stroke="#231f20" stroke-width="1.1"/>
<text x="339.92" y="432.8" font-size="10" fill="#231f20" text-anchor="middle" textLength="10.9" lengthAdjust="spacingAndGlyphs" stroke="#231f20" stroke-width="0.15">12</text>
<line x1="354.26" y1="415.2" x2="354.26" y2="419.4" stroke="#231f20" stroke-width="1.1"/>
<text x="354.26000000000005" y="432.8" font-size="10" fill="#231f20" text-anchor="middle" textLength="10.9" lengthAdjust="spacingAndGlyphs" stroke="#231f20" stroke-width="0.15">16</text>
<line x1="368.60" y1="415.2" x2="368.60" y2="419.4" stroke="#231f20" stroke-width="1.1"/>
<text x="368.6" y="432.8" font-size="10" fill="#231f20" text-anchor="middle" textLength="10.9" lengthAdjust="spacingAndGlyphs" stroke="#231f20" stroke-width="0.15">20</text>
<line x1="382.94" y1="415.2" x2="382.94" y2="419.4" stroke="#231f20" stroke-width="1.1"/>
<text x="382.94000000000005" y="432.8" font-size="10" fill="#231f20" text-anchor="middle" textLength="10.9" lengthAdjust="spacingAndGlyphs" stroke="#231f20" stroke-width="0.15">24</text>
<text x="329.1" y="447.7" font-size="12.7" fill="#231f20" textLength="25.4" lengthAdjust="spacingAndGlyphs" stroke="#231f20" stroke-width="0.15">Days</text>
<text transform="translate(261.4,417.3) rotate(-90)" font-size="12" fill="#231f20" stroke="#231f20" stroke-width="0.15" textLength="66.2" lengthAdjust="spacingAndGlyphs">%TdTomato</text>
<polyline points="304.07,370.62 311.24,370.62 322.00,379.20 329.17,387.77 336.34,392.34 347.09,402.63 354.26,405.48 361.43,408.34 372.19,408.91" fill="none" stroke="#e0a040" stroke-width="1.2" stroke-linejoin="round"/>
<polygon points="304.07,367.62 307.07,370.62 304.07,373.62 301.07,370.62" fill="#e0a040"/><polygon points="311.24,367.62 314.24,370.62 311.24,373.62 308.24,370.62" fill="#e0a040"/><polygon points="322.00,376.20 325.00,379.20 322.00,382.20 319.00,379.20" fill="#e0a040"/><polygon points="329.17,384.77 332.17,387.77 329.17,390.77 326.17,387.77" fill="#e0a040"/><polygon points="336.34,389.34 339.34,392.34 336.34,395.34 333.34,392.34" fill="#e0a040"/><polygon points="347.09,399.63 350.09,402.63 347.09,405.63 344.09,402.63" fill="#e0a040"/><polygon points="354.26,402.48 357.26,405.48 354.26,408.48 351.26,405.48" fill="#e0a040"/><polygon points="361.43,405.34 364.43,408.34 361.43,411.34 358.43,408.34" fill="#e0a040"/><polygon points="372.19,405.91 375.19,408.91 372.19,411.91 369.19,408.91" fill="#e0a040"/>
<polyline points="304.07,367.19 311.24,368.91 322.00,376.91 329.17,381.48 336.34,387.20 347.09,395.03 354.26,398.34 361.43,399.03 372.19,400.00" fill="none" stroke="#643f70" stroke-width="1.2" stroke-linejoin="round"/>
<path d="M304.07,365.48V368.91M301.57,365.48h5M301.57,368.91h5" stroke="#643f70" stroke-width="1" fill="none"/>
<path d="M311.24,367.19V370.62M308.74,367.19h5M308.74,370.62h5" stroke="#643f70" stroke-width="1" fill="none"/>
<path d="M322.00,375.19V378.62M319.50,375.19h5M319.50,378.62h5" stroke="#643f70" stroke-width="1" fill="none"/>
<path d="M329.17,379.20V383.77M326.67,379.20h5M326.67,383.77h5" stroke="#643f70" stroke-width="1" fill="none"/>
<path d="M336.34,384.34V390.05M333.84,384.34h5M333.84,390.05h5" stroke="#643f70" stroke-width="1" fill="none"/>
<path d="M347.09,391.31V398.74M344.59,391.31h5M344.59,398.74h5" stroke="#643f70" stroke-width="1" fill="none"/>
<path d="M354.26,394.34V402.34M351.76,394.34h5M351.76,402.34h5" stroke="#643f70" stroke-width="1" fill="none"/>
<path d="M361.43,395.03V403.03M358.93,395.03h5M358.93,403.03h5" stroke="#643f70" stroke-width="1" fill="none"/>
<path d="M372.19,396.57V403.43M369.69,396.57h5M369.69,403.43h5" stroke="#643f70" stroke-width="1" fill="none"/>
<polygon points="304.07,370.09 306.87,364.89 301.27,364.89" fill="#643f70"/><polygon points="311.24,371.81 314.04,366.61 308.44,366.61" fill="#643f70"/><polygon points="322.00,379.81 324.80,374.61 319.19,374.61" fill="#643f70"/><polygon points="329.17,384.38 331.97,379.18 326.37,379.18" fill="#643f70"/><polygon points="336.34,390.10 339.14,384.90 333.54,384.90" fill="#643f70"/><polygon points="347.09,397.93 349.89,392.73 344.29,392.73" fill="#643f70"/><polygon points="354.26,401.24 357.06,396.04 351.46,396.04" fill="#643f70"/><polygon points="361.43,401.93 364.23,396.73 358.63,396.73" fill="#643f70"/><polygon points="372.19,402.90 374.99,397.70 369.39,397.70" fill="#643f70"/>
<polyline points="304.07,370.62 311.24,370.62 322.00,377.48 329.17,386.62 336.34,395.20 347.09,405.48 354.26,407.20 361.43,409.49 372.19,411.20" fill="none" stroke="#6aa84f" stroke-width="1.2" stroke-linejoin="round"/>
<polygon points="304.07,367.72 306.87,372.92 301.27,372.92" fill="#6aa84f"/><polygon points="311.24,367.72 314.04,372.92 308.44,372.92" fill="#6aa84f"/><polygon points="322.00,374.58 324.80,379.78 319.19,379.78" fill="#6aa84f"/><polygon points="329.17,383.73 331.97,388.93 326.37,388.93" fill="#6aa84f"/><polygon points="336.34,392.30 339.14,397.50 333.54,397.50" fill="#6aa84f"/><polygon points="347.09,402.58 349.89,407.78 344.29,407.78" fill="#6aa84f"/><polygon points="354.26,404.30 357.06,409.50 351.46,409.50" fill="#6aa84f"/><polygon points="361.43,406.59 364.23,411.79 358.63,411.79" fill="#6aa84f"/><polygon points="372.19,408.30 374.99,413.50 369.39,413.50" fill="#6aa84f"/>
<polyline points="304.07,373.48 311.24,372.34 322.00,383.77 329.17,394.63 336.34,404.34 347.09,411.77 354.26,414.06 361.43,414.63 372.19,414.63" fill="none" stroke="#a82a3c" stroke-width="1.2" stroke-linejoin="round"/>
<rect x="301.57" y="370.98" width="5.00" height="5.00" fill="#a82a3c"/><rect x="308.74" y="369.84" width="5.00" height="5.00" fill="#a82a3c"/><rect x="319.50" y="381.27" width="5.00" height="5.00" fill="#a82a3c"/><rect x="326.67" y="392.13" width="5.00" height="5.00" fill="#a82a3c"/><rect x="333.84" y="401.84" width="5.00" height="5.00" fill="#a82a3c"/><rect x="344.59" y="409.27" width="5.00" height="5.00" fill="#a82a3c"/><rect x="351.76" y="411.56" width="5.00" height="5.00" fill="#a82a3c"/><rect x="358.93" y="412.13" width="5.00" height="5.00" fill="#a82a3c"/><rect x="369.69" y="412.13" width="5.00" height="5.00" fill="#a82a3c"/>
<polyline points="304.07,371.19 311.24,372.34 322.00,382.05 329.17,394.05 336.34,403.77 347.09,410.63 354.26,413.49 361.43,414.06 372.19,414.06" fill="none" stroke="#44618f" stroke-width="1.2" stroke-linejoin="round"/>
<path d="M322.00,379.20V384.91M319.50,379.20h5M319.50,384.91h5" stroke="#44618f" stroke-width="1" fill="none"/>
<path d="M329.17,391.20V396.91M326.67,391.20h5M326.67,396.91h5" stroke="#44618f" stroke-width="1" fill="none"/>
<path d="M336.34,400.91V406.63M333.84,400.91h5M333.84,406.63h5" stroke="#44618f" stroke-width="1" fill="none"/>
<path d="M347.09,409.49V411.77M344.59,409.49h5M344.59,411.77h5" stroke="#44618f" stroke-width="1" fill="none"/>
<circle cx="304.07" cy="371.19" r="2.5" fill="#44618f"/><circle cx="311.24" cy="372.34" r="2.5" fill="#44618f"/><circle cx="322.00" cy="382.05" r="2.5" fill="#44618f"/><circle cx="329.17" cy="394.05" r="2.5" fill="#44618f"/><circle cx="336.34" cy="403.77" r="2.5" fill="#44618f"/><circle cx="347.09" cy="410.63" r="2.5" fill="#44618f"/><circle cx="354.26" cy="413.49" r="2.5" fill="#44618f"/><circle cx="361.43" cy="414.06" r="2.5" fill="#44618f"/><circle cx="372.19" cy="414.06" r="2.5" fill="#44618f"/>
<line x1="396.2" y1="353.30" x2="408.0" y2="353.30" stroke="#44618f" stroke-width="1.2"/>
<circle cx="402.10" cy="353.30" r="2.4" fill="#44618f"/>
<text x="412.8" y="356.5" font-size="9.5" fill="#231f20" textLength="21.4" lengthAdjust="spacingAndGlyphs" stroke="#231f20" stroke-width="0.15">e20.1</text>
<line x1="396.2" y1="368.75" x2="408.0" y2="368.75" stroke="#a82a3c" stroke-width="1.2"/>
<rect x="399.70" y="366.35" width="4.80" height="4.80" fill="#a82a3c"/>
<text x="412.8" y="371.95" font-size="9.5" fill="#231f20" textLength="21.4" lengthAdjust="spacingAndGlyphs" stroke="#231f20" stroke-width="0.15">e21.1</text>
<line x1="396.2" y1="384.20" x2="408.0" y2="384.20" stroke="#6aa84f" stroke-width="1.2"/>
<polygon points="402.10,381.40 404.80,386.40 399.40,386.40" fill="#6aa84f"/>
<text x="412.8" y="387.4" font-size="9.5" fill="#231f20" textLength="21.4" lengthAdjust="spacingAndGlyphs" stroke="#231f20" stroke-width="0.15">e22.1</text>
<line x1="396.2" y1="399.65" x2="408.0" y2="399.65" stroke="#643f70" stroke-width="1.2"/>
<polygon points="402.10,402.45 404.80,397.45 399.40,397.45" fill="#643f70"/>
<text x="412.8" y="402.84999999999997" font-size="9.5" fill="#231f20" textLength="21.4" lengthAdjust="spacingAndGlyphs" stroke="#231f20" stroke-width="0.15">e23.1</text>
<line x1="396.2" y1="415.10" x2="408.0" y2="415.10" stroke="#e0a040" stroke-width="1.2"/>
<polygon points="402.10,412.20 405.00,415.10 402.10,418.00 399.20,415.10" fill="#e0a040"/>
<text x="412.8" y="418.3" font-size="9.5" fill="#231f20" textLength="21.4" lengthAdjust="spacingAndGlyphs" stroke="#231f20" stroke-width="0.15">e23.2</text>
<text x="10.2" y="486.8" font-size="15.3" fill="#231f20" textLength="7.3" lengthAdjust="spacingAndGlyphs" stroke="#231f20" stroke-width="0.05">E</text>
<text x="63.4" y="499.7" font-size="9.5" fill="#231f20" textLength="76" lengthAdjust="spacingAndGlyphs" stroke="#231f20" stroke-width="0.15">Positive controls</text>
<line x1="57.0" y1="516.0" x2="57.0" y2="577.8" stroke="#231f20" stroke-width="1.3"/>
<line x1="52.9" y1="577.2" x2="147.0" y2="577.2" stroke="#231f20" stroke-width="1.3"/>
<line x1="52.9" y1="577.20" x2="57.0" y2="577.20" stroke="#231f20" stroke-width="1.1"/>
<text x="48.8" y="580.8000000000001" font-size="10" fill="#231f20" text-anchor="end" textLength="5.55" lengthAdjust="spacingAndGlyphs" stroke="#231f20" stroke-width="0.15">0</text>
<line x1="52.9" y1="565.77" x2="57.0" y2="565.77" stroke="#231f20" stroke-width="1.1"/>
<text x="48.8" y="569.3700000000001" font-size="10" fill="#231f20" text-anchor="end" textLength="11.1" lengthAdjust="spacingAndGlyphs" stroke="#231f20" stroke-width="0.15">20</text>
<line x1="52.9" y1="554.34" x2="57.0" y2="554.34" stroke="#231f20" stroke-width="1.1"/>
<text x="48.8" y="557.94" font-size="10" fill="#231f20" text-anchor="end" textLength="11.1" lengthAdjust="spacingAndGlyphs" stroke="#231f20" stroke-width="0.15">40</text>
<line x1="52.9" y1="542.91" x2="57.0" y2="542.91" stroke="#231f20" stroke-width="1.1"/>
<text x="48.8" y="546.5100000000001" font-size="10" fill="#231f20" text-anchor="end" textLength="11.1" lengthAdjust="spacingAndGlyphs" stroke="#231f20" stroke-width="0.15">60</text>
<line x1="52.9" y1="531.48" x2="57.0" y2="531.48" stroke="#231f20" stroke-width="1.1"/>
<text x="48.8" y="535.08" font-size="10" fill="#231f20" text-anchor="end" textLength="11.1" lengthAdjust="spacingAndGlyphs" stroke="#231f20" stroke-width="0.15">80</text>
<line x1="52.9" y1="520.05" x2="57.0" y2="520.05" stroke="#231f20" stroke-width="1.1"/>
<text x="48.8" y="523.6500000000001" font-size="10" fill="#231f20" text-anchor="end" textLength="16.65" lengthAdjust="spacingAndGlyphs" stroke="#231f20" stroke-width="0.15">100</text>
<line x1="57.10" y1="577.2" x2="57.10" y2="581.4" stroke="#231f20" stroke-width="1.1"/>
<text x="57.1" y="594.8000000000001" font-size="10" fill="#231f20" text-anchor="middle" textLength="5.45" lengthAdjust="spacingAndGlyphs" stroke="#231f20" stroke-width="0.15">0</text>
<line x1="71.44" y1="577.2" x2="71.44" y2="581.4" stroke="#231f20" stroke-width="1.1"/>
<text x="71.44" y="594.8000000000001" font-size="10" fill="#231f20" text-anchor="middle" textLength="5.45" lengthAdjust="spacingAndGlyphs" stroke="#231f20" stroke-width="0.15">4</text>
<line x1="85.78" y1="577.2" x2="85.78" y2="581.4" stroke="#231f20" stroke-width="1.1"/>
<text x="85.78" y="594.8000000000001" font-size="10" fill="#231f20" text-anchor="middle" textLength="5.45" lengthAdjust="spacingAndGlyphs" stroke="#231f20" stroke-width="0.15">8</text>
<line x1="100.12" y1="577.2" x2="100.12" y2="581.4" stroke="#231f20" stroke-width="1.1"/>
<text x="100.12" y="594.8000000000001" font-size="10" fill="#231f20" text-anchor="middle" textLength="10.9" lengthAdjust="spacingAndGlyphs" stroke="#231f20" stroke-width="0.15">12</text>
<line x1="114.46" y1="577.2" x2="114.46" y2="581.4" stroke="#231f20" stroke-width="1.1"/>
<text x="114.46000000000001" y="594.8000000000001" font-size="10" fill="#231f20" text-anchor="middle" textLength="10.9" lengthAdjust="spacingAndGlyphs" stroke="#231f20" stroke-width="0.15">16</text>
<line x1="128.80" y1="577.2" x2="128.80" y2="581.4" stroke="#231f20" stroke-width="1.1"/>
<text x="128.8" y="594.8000000000001" font-size="10" fill="#231f20" text-anchor="middle" textLength="10.9" lengthAdjust="spacingAndGlyphs" stroke="#231f20" stroke-width="0.15">20</text>
<line x1="143.14" y1="577.2" x2="143.14" y2="581.4" stroke="#231f20" stroke-width="1.1"/>
<text x="143.14" y="594.8000000000001" font-size="10" fill="#231f20" text-anchor="middle" textLength="10.9" lengthAdjust="spacingAndGlyphs" stroke="#231f20" stroke-width="0.15">24</text>
<text x="89.3" y="609.7" font-size="12.7" fill="#231f20" textLength="25.4" lengthAdjust="spacingAndGlyphs" stroke="#231f20" stroke-width="0.15">Days</text>
<text transform="translate(21.6,579.3) rotate(-90)" font-size="12" fill="#231f20" stroke="#231f20" stroke-width="0.15" textLength="66.2" lengthAdjust="spacingAndGlyphs">%TdTomato</text>
<polyline points="64.27,529.19 71.44,544.62 82.19,570.91 89.37,576.63 96.53,577.20 107.29,577.20 114.46,577.20 121.63,577.20" fill="none" stroke="#e0a040" stroke-width="1.2" stroke-linejoin="round"/>
<polygon points="64.27,526.19 67.27,529.19 64.27,532.19 61.27,529.19" fill="#e0a040"/><polygon points="71.44,541.62 74.44,544.62 71.44,547.62 68.44,544.62" fill="#e0a040"/><polygon points="82.19,567.91 85.19,570.91 82.19,573.91 79.19,570.91" fill="#e0a040"/><polygon points="89.37,573.63 92.37,576.63 89.37,579.63 86.37,576.63" fill="#e0a040"/><polygon points="96.53,574.20 99.53,577.20 96.53,580.20 93.53,577.20" fill="#e0a040"/><polygon points="107.29,574.20 110.29,577.20 107.29,580.20 104.29,577.20" fill="#e0a040"/><polygon points="114.46,574.20 117.46,577.20 114.46,580.20 111.46,577.20" fill="#e0a040"/><polygon points="121.63,574.20 124.63,577.20 121.63,580.20 118.63,577.20" fill="#e0a040"/>
<polyline points="64.27,533.19 71.44,559.48 82.19,565.77 89.37,565.77 96.53,566.34 107.29,566.91 114.46,568.06 121.63,568.06 132.38,569.20" fill="none" stroke="#6aa84f" stroke-width="1.2" stroke-linejoin="round"/>
<polygon points="64.27,530.29 67.07,535.49 61.47,535.49" fill="#6aa84f"/><polygon points="71.44,556.58 74.24,561.78 68.64,561.78" fill="#6aa84f"/><polygon points="82.19,562.87 84.99,568.07 79.39,568.07" fill="#6aa84f"/><polygon points="89.37,562.87 92.17,568.07 86.57,568.07" fill="#6aa84f"/><polygon points="96.53,563.44 99.33,568.64 93.73,568.64" fill="#6aa84f"/><polygon points="107.29,564.01 110.09,569.21 104.49,569.21" fill="#6aa84f"/><polygon points="114.46,565.16 117.26,570.36 111.66,570.36" fill="#6aa84f"/><polygon points="121.63,565.16 124.43,570.36 118.83,570.36" fill="#6aa84f"/><polygon points="132.38,566.30 135.19,571.50 129.58,571.50" fill="#6aa84f"/>
<polyline points="64.27,536.05 71.44,548.05 82.19,564.63 89.37,569.20 96.53,572.06 107.29,573.49 114.46,573.77 121.63,574.91 132.38,574.91" fill="none" stroke="#a82a3c" stroke-width="1.2" stroke-linejoin="round"/>
<rect x="61.77" y="533.55" width="5.00" height="5.00" fill="#a82a3c"/><rect x="68.94" y="545.55" width="5.00" height="5.00" fill="#a82a3c"/><rect x="79.69" y="562.13" width="5.00" height="5.00" fill="#a82a3c"/><rect x="86.87" y="566.70" width="5.00" height="5.00" fill="#a82a3c"/><rect x="94.03" y="569.56" width="5.00" height="5.00" fill="#a82a3c"/><rect x="104.79" y="570.99" width="5.00" height="5.00" fill="#a82a3c"/><rect x="111.96" y="571.27" width="5.00" height="5.00" fill="#a82a3c"/><rect x="119.13" y="572.41" width="5.00" height="5.00" fill="#a82a3c"/><rect x="129.88" y="572.41" width="5.00" height="5.00" fill="#a82a3c"/>
<polyline points="64.27,530.34 71.44,562.91 82.19,566.91 89.37,573.20 96.53,575.49 107.29,575.49 114.46,575.49 121.63,575.49 132.38,575.77" fill="none" stroke="#44618f" stroke-width="1.2" stroke-linejoin="round"/>
<circle cx="64.27" cy="530.34" r="2.5" fill="#44618f"/><circle cx="71.44" cy="562.91" r="2.5" fill="#44618f"/><circle cx="82.19" cy="566.91" r="2.5" fill="#44618f"/><circle cx="89.37" cy="573.20" r="2.5" fill="#44618f"/><circle cx="96.53" cy="575.49" r="2.5" fill="#44618f"/><circle cx="107.29" cy="575.49" r="2.5" fill="#44618f"/><circle cx="114.46" cy="575.49" r="2.5" fill="#44618f"/><circle cx="121.63" cy="575.49" r="2.5" fill="#44618f"/><circle cx="132.38" cy="575.77" r="2.5" fill="#44618f"/>
<line x1="156.9" y1="509.70" x2="168.70000000000002" y2="509.70" stroke="#44618f" stroke-width="1.2"/>
<circle cx="162.80" cy="509.70" r="2.4" fill="#44618f"/>
<text x="173.5" y="512.9" font-size="9.5" fill="#231f20" textLength="35.8" lengthAdjust="spacingAndGlyphs" stroke="#231f20" stroke-width="0.15">Rpa3 1.1</text>
<line x1="156.9" y1="524.95" x2="168.70000000000002" y2="524.95" stroke="#a82a3c" stroke-width="1.2"/>
<rect x="160.40" y="522.55" width="4.80" height="4.80" fill="#a82a3c"/>
<text x="173.5" y="528.1500000000001" font-size="9.5" fill="#231f20" textLength="35.8" lengthAdjust="spacingAndGlyphs" stroke="#231f20" stroke-width="0.15">Rpa3 1.2</text>
<line x1="156.9" y1="540.20" x2="168.70000000000002" y2="540.20" stroke="#6aa84f" stroke-width="1.2"/>
<polygon points="162.80,537.40 165.50,542.40 160.10,542.40" fill="#6aa84f"/>
<text x="173.5" y="543.4000000000001" font-size="9.5" fill="#231f20" textLength="35.8" lengthAdjust="spacingAndGlyphs" stroke="#231f20" stroke-width="0.15">Rpa3 1.3</text>
<line x1="156.9" y1="555.45" x2="168.70000000000002" y2="555.45" stroke="#e0a040" stroke-width="1.2"/>
<polygon points="162.80,552.55 165.70,555.45 162.80,558.35 159.90,555.45" fill="#e0a040"/>
<text x="173.5" y="558.6500000000001" font-size="9.5" fill="#231f20" textLength="28" lengthAdjust="spacingAndGlyphs" stroke="#231f20" stroke-width="0.15">Brd4.1</text>
<text x="250.15" y="486.7" font-size="15.3" fill="#231f20" textLength="7.4" lengthAdjust="spacingAndGlyphs" stroke="#231f20" stroke-width="0.05">F</text>
<text x="299.9" y="502.0" font-size="9.5" fill="#231f20" textLength="81.6" lengthAdjust="spacingAndGlyphs" stroke="#231f20" stroke-width="0.15">Negative controls</text>
<line x1="297.0" y1="516.0" x2="297.0" y2="577.8" stroke="#231f20" stroke-width="1.3"/>
<line x1="292.9" y1="577.2" x2="387.0" y2="577.2" stroke="#231f20" stroke-width="1.3"/>
<line x1="292.9" y1="577.20" x2="297.0" y2="577.20" stroke="#231f20" stroke-width="1.1"/>
<text x="288.8" y="580.8000000000001" font-size="10" fill="#231f20" text-anchor="end" textLength="5.55" lengthAdjust="spacingAndGlyphs" stroke="#231f20" stroke-width="0.15">0</text>
<line x1="292.9" y1="565.77" x2="297.0" y2="565.77" stroke="#231f20" stroke-width="1.1"/>
<text x="288.8" y="569.3700000000001" font-size="10" fill="#231f20" text-anchor="end" textLength="11.1" lengthAdjust="spacingAndGlyphs" stroke="#231f20" stroke-width="0.15">20</text>
<line x1="292.9" y1="554.34" x2="297.0" y2="554.34" stroke="#231f20" stroke-width="1.1"/>
<text x="288.8" y="557.94" font-size="10" fill="#231f20" text-anchor="end" textLength="11.1" lengthAdjust="spacingAndGlyphs" stroke="#231f20" stroke-width="0.15">40</text>
<line x1="292.9" y1="542.91" x2="297.0" y2="542.91" stroke="#231f20" stroke-width="1.1"/>
<text x="288.8" y="546.5100000000001" font-size="10" fill="#231f20" text-anchor="end" textLength="11.1" lengthAdjust="spacingAndGlyphs" stroke="#231f20" stroke-width="0.15">60</text>
<line x1="292.9" y1="531.48" x2="297.0" y2="531.48" stroke="#231f20" stroke-width="1.1"/>
<text x="288.8" y="535.08" font-size="10" fill="#231f20" text-anchor="end" textLength="11.1" lengthAdjust="spacingAndGlyphs" stroke="#231f20" stroke-width="0.15">80</text>
<line x1="292.9" y1="520.05" x2="297.0" y2="520.05" stroke="#231f20" stroke-width="1.1"/>
<text x="288.8" y="523.6500000000001" font-size="10" fill="#231f20" text-anchor="end" textLength="16.65" lengthAdjust="spacingAndGlyphs" stroke="#231f20" stroke-width="0.15">100</text>
<line x1="297.10" y1="577.2" x2="297.10" y2="581.4" stroke="#231f20" stroke-width="1.1"/>
<text x="297.1" y="594.8000000000001" font-size="10" fill="#231f20" text-anchor="middle" textLength="5.45" lengthAdjust="spacingAndGlyphs" stroke="#231f20" stroke-width="0.15">0</text>
<line x1="311.44" y1="577.2" x2="311.44" y2="581.4" stroke="#231f20" stroke-width="1.1"/>
<text x="311.44" y="594.8000000000001" font-size="10" fill="#231f20" text-anchor="middle" textLength="5.45" lengthAdjust="spacingAndGlyphs" stroke="#231f20" stroke-width="0.15">4</text>
<line x1="325.78" y1="577.2" x2="325.78" y2="581.4" stroke="#231f20" stroke-width="1.1"/>
<text x="325.78000000000003" y="594.8000000000001" font-size="10" fill="#231f20" text-anchor="middle" textLength="5.45" lengthAdjust="spacingAndGlyphs" stroke="#231f20" stroke-width="0.15">8</text>
<line x1="340.12" y1="577.2" x2="340.12" y2="581.4" stroke="#231f20" stroke-width="1.1"/>
<text x="340.12" y="594.8000000000001" font-size="10" fill="#231f20" text-anchor="middle" textLength="10.9" lengthAdjust="spacingAndGlyphs" stroke="#231f20" stroke-width="0.15">12</text>
<line x1="354.46" y1="577.2" x2="354.46" y2="581.4" stroke="#231f20" stroke-width="1.1"/>
<text x="354.46000000000004" y="594.8000000000001" font-size="10" fill="#231f20" text-anchor="middle" textLength="10.9" lengthAdjust="spacingAndGlyphs" stroke="#231f20" stroke-width="0.15">16</text>
<line x1="368.80" y1="577.2" x2="368.80" y2="581.4" stroke="#231f20" stroke-width="1.1"/>
<text x="368.8" y="594.8000000000001" font-size="10" fill="#231f20" text-anchor="middle" textLength="10.9" lengthAdjust="spacingAndGlyphs" stroke="#231f20" stroke-width="0.15">20</text>
<line x1="383.14" y1="577.2" x2="383.14" y2="581.4" stroke="#231f20" stroke-width="1.1"/>
<text x="383.14" y="594.8000000000001" font-size="10" fill="#231f20" text-anchor="middle" textLength="10.9" lengthAdjust="spacingAndGlyphs" stroke="#231f20" stroke-width="0.15">24</text>
<text x="329.3" y="609.7" font-size="12.7" fill="#231f20" textLength="25.4" lengthAdjust="spacingAndGlyphs" stroke="#231f20" stroke-width="0.15">Days</text>
<text transform="translate(261.6,579.3) rotate(-90)" font-size="12" fill="#231f20" stroke="#231f20" stroke-width="0.15" textLength="66.2" lengthAdjust="spacingAndGlyphs">%TdTomato</text>
<polyline points="304.27,535.48 311.44,535.48 322.20,536.62 329.37,536.62 336.54,536.62 347.29,537.77 354.46,538.34 361.63,539.48 372.38,540.62" fill="none" stroke="#6aa84f" stroke-width="1.2" stroke-linejoin="round"/>
<polygon points="304.27,532.58 307.07,537.78 301.47,537.78" fill="#6aa84f"/><polygon points="311.44,532.58 314.24,537.78 308.64,537.78" fill="#6aa84f"/><polygon points="322.20,533.72 325.00,538.92 319.40,538.92" fill="#6aa84f"/><polygon points="329.37,533.72 332.17,538.92 326.56,538.92" fill="#6aa84f"/><polygon points="336.54,533.72 339.34,538.92 333.74,538.92" fill="#6aa84f"/><polygon points="347.29,534.87 350.09,540.07 344.49,540.07" fill="#6aa84f"/><polygon points="354.46,535.44 357.26,540.64 351.66,540.64" fill="#6aa84f"/><polygon points="361.63,536.58 364.43,541.78 358.83,541.78" fill="#6aa84f"/><polygon points="372.38,537.72 375.19,542.92 369.58,542.92" fill="#6aa84f"/>
<polyline points="304.27,531.48 311.44,531.48 322.20,532.05 329.37,532.05 336.54,532.05 347.29,532.62 354.46,532.62 361.63,533.19 372.38,533.19" fill="none" stroke="#e0a040" stroke-width="1.2" stroke-linejoin="round"/>
<polygon points="304.27,528.48 307.27,531.48 304.27,534.48 301.27,531.48" fill="#e0a040"/><polygon points="311.44,528.48 314.44,531.48 311.44,534.48 308.44,531.48" fill="#e0a040"/><polygon points="322.20,529.05 325.20,532.05 322.20,535.05 319.20,532.05" fill="#e0a040"/><polygon points="329.37,529.05 332.37,532.05 329.37,535.05 326.37,532.05" fill="#e0a040"/><polygon points="336.54,529.05 339.54,532.05 336.54,535.05 333.54,532.05" fill="#e0a040"/><polygon points="347.29,529.62 350.29,532.62 347.29,535.62 344.29,532.62" fill="#e0a040"/><polygon points="354.46,529.62 357.46,532.62 354.46,535.62 351.46,532.62" fill="#e0a040"/><polygon points="361.63,530.19 364.63,533.19 361.63,536.19 358.63,533.19" fill="#e0a040"/><polygon points="372.38,530.19 375.38,533.19 372.38,536.19 369.38,533.19" fill="#e0a040"/>
<polyline points="304.27,532.05 311.44,532.05 322.20,532.62 329.37,532.62 336.54,532.62 347.29,533.19 354.46,533.19 361.63,533.77 372.38,533.77" fill="none" stroke="#643f70" stroke-width="1.2" stroke-linejoin="round"/>
<polygon points="304.27,534.95 307.07,529.75 301.47,529.75" fill="#643f70"/><polygon points="311.44,534.95 314.24,529.75 308.64,529.75" fill="#643f70"/><polygon points="322.20,535.52 325.00,530.32 319.40,530.32" fill="#643f70"/><polygon points="329.37,535.52 332.17,530.32 326.56,530.32" fill="#643f70"/><polygon points="336.54,535.52 339.34,530.32 333.74,530.32" fill="#643f70"/><polygon points="347.29,536.09 350.09,530.89 344.49,530.89" fill="#643f70"/><polygon points="354.46,536.09 357.26,530.89 351.66,530.89" fill="#643f70"/><polygon points="361.63,536.67 364.43,531.47 358.83,531.47" fill="#643f70"/><polygon points="372.38,536.67 375.19,531.47 369.58,531.47" fill="#643f70"/>
<polyline points="304.27,531.48 311.44,531.48 322.20,531.48 329.37,531.48 336.54,531.48 347.29,532.05 354.46,532.05 361.63,532.62 372.38,532.62" fill="none" stroke="#3d7a62" stroke-width="1.2" stroke-linejoin="round"/>
<circle cx="304.27" cy="531.48" r="2.5" fill="#3d7a62"/><circle cx="311.44" cy="531.48" r="2.5" fill="#3d7a62"/><circle cx="322.20" cy="531.48" r="2.5" fill="#3d7a62"/><circle cx="329.37" cy="531.48" r="2.5" fill="#3d7a62"/><circle cx="336.54" cy="531.48" r="2.5" fill="#3d7a62"/><circle cx="347.29" cy="532.05" r="2.5" fill="#3d7a62"/><circle cx="354.46" cy="532.05" r="2.5" fill="#3d7a62"/><circle cx="361.63" cy="532.62" r="2.5" fill="#3d7a62"/><circle cx="372.38" cy="532.62" r="2.5" fill="#3d7a62"/>
<polyline points="304.27,532.62 311.44,532.62 322.20,532.62 329.37,532.62 336.54,532.62 347.29,533.19 354.46,533.19 361.63,533.19 372.38,533.77" fill="none" stroke="#9a9ad0" stroke-width="1.2" stroke-linejoin="round"/>
<polygon points="304.27,529.62 307.27,532.62 304.27,535.62 301.27,532.62" fill="#9a9ad0"/><polygon points="311.44,529.62 314.44,532.62 311.44,535.62 308.44,532.62" fill="#9a9ad0"/><polygon points="322.20,529.62 325.20,532.62 322.20,535.62 319.20,532.62" fill="#9a9ad0"/><polygon points="329.37,529.62 332.37,532.62 329.37,535.62 326.37,532.62" fill="#9a9ad0"/><polygon points="336.54,529.62 339.54,532.62 336.54,535.62 333.54,532.62" fill="#9a9ad0"/><polygon points="347.29,530.19 350.29,533.19 347.29,536.19 344.29,533.19" fill="#9a9ad0"/><polygon points="354.46,530.19 357.46,533.19 354.46,536.19 351.46,533.19" fill="#9a9ad0"/><polygon points="361.63,530.19 364.63,533.19 361.63,536.19 358.63,533.19" fill="#9a9ad0"/><polygon points="372.38,530.77 375.38,533.77 372.38,536.77 369.38,533.77" fill="#9a9ad0"/>
<polyline points="304.27,530.91 311.44,530.91 322.20,530.91 329.37,531.48 336.54,531.48 347.29,533.19 354.46,533.77 361.63,534.91 372.38,536.62" fill="none" stroke="#a82a3c" stroke-width="1.2" stroke-linejoin="round"/>
<rect x="301.77" y="528.41" width="5.00" height="5.00" fill="#a82a3c"/><rect x="308.94" y="528.41" width="5.00" height="5.00" fill="#a82a3c"/><rect x="319.70" y="528.41" width="5.00" height="5.00" fill="#a82a3c"/><rect x="326.87" y="528.98" width="5.00" height="5.00" fill="#a82a3c"/><rect x="334.04" y="528.98" width="5.00" height="5.00" fill="#a82a3c"/><rect x="344.79" y="530.69" width="5.00" height="5.00" fill="#a82a3c"/><rect x="351.96" y="531.27" width="5.00" height="5.00" fill="#a82a3c"/><rect x="359.13" y="532.41" width="5.00" height="5.00" fill="#a82a3c"/><rect x="369.88" y="534.12" width="5.00" height="5.00" fill="#a82a3c"/>
<polyline points="304.27,530.62 311.44,530.91 322.20,530.91 329.37,530.91 336.54,530.91 347.29,531.48 354.46,532.05 361.63,532.05 372.38,532.91" fill="none" stroke="#44618f" stroke-width="1.2" stroke-linejoin="round"/>
<circle cx="304.27" cy="530.62" r="2.5" fill="#44618f"/><circle cx="311.44" cy="530.91" r="2.5" fill="#44618f"/><circle cx="322.20" cy="530.91" r="2.5" fill="#44618f"/><circle cx="329.37" cy="530.91" r="2.5" fill="#44618f"/><circle cx="336.54" cy="530.91" r="2.5" fill="#44618f"/><circle cx="347.29" cy="531.48" r="2.5" fill="#44618f"/><circle cx="354.46" cy="532.05" r="2.5" fill="#44618f"/><circle cx="361.63" cy="532.05" r="2.5" fill="#44618f"/><circle cx="372.38" cy="532.91" r="2.5" fill="#44618f"/>
<line x1="399.7" y1="495.60" x2="411.5" y2="495.60" stroke="#44618f" stroke-width="1.2"/>
<circle cx="405.60" cy="495.60" r="2.4" fill="#44618f"/>
<text x="416.3" y="498.8" font-size="9.5" fill="#231f20" textLength="74" lengthAdjust="spacingAndGlyphs" stroke="#231f20" stroke-width="0.15">Renilla Luciferase</text>
<line x1="399.7" y1="511.18" x2="411.5" y2="511.18" stroke="#a82a3c" stroke-width="1.2"/>
<rect x="403.20" y="508.78" width="4.80" height="4.80" fill="#a82a3c"/>
<text x="416.3" y="514.38" font-size="9.5" fill="#231f20" textLength="71.5" lengthAdjust="spacingAndGlyphs" stroke="#231f20" stroke-width="0.15">Firefly Luciferase</text>
<line x1="399.7" y1="526.76" x2="411.5" y2="526.76" stroke="#6aa84f" stroke-width="1.2"/>
<polygon points="405.60,523.96 408.30,528.96 402.90,528.96" fill="#6aa84f"/>
<text x="416.3" y="529.96" font-size="9.5" fill="#231f20" textLength="17" lengthAdjust="spacingAndGlyphs" stroke="#231f20" stroke-width="0.15">e3.3</text>
<line x1="399.7" y1="542.34" x2="411.5" y2="542.34" stroke="#643f70" stroke-width="1.2"/>
<polygon points="405.60,545.14 408.30,540.14 402.90,540.14" fill="#643f70"/>
<text x="416.3" y="545.5400000000001" font-size="9.5" fill="#231f20" textLength="17" lengthAdjust="spacingAndGlyphs" stroke="#231f20" stroke-width="0.15">e3.4</text>
<line x1="399.7" y1="557.92" x2="411.5" y2="557.92" stroke="#e0a040" stroke-width="1.2"/>
<polygon points="405.60,555.02 408.50,557.92 405.60,560.82 402.70,557.92" fill="#e0a040"/>
<text x="416.3" y="561.1200000000001" font-size="9.5" fill="#231f20" textLength="17" lengthAdjust="spacingAndGlyphs" stroke="#231f20" stroke-width="0.15">e4.3</text>
<line x1="399.7" y1="573.50" x2="411.5" y2="573.50" stroke="#3d7a62" stroke-width="1.2"/>
<circle cx="405.60" cy="573.50" r="2.4" fill="#3d7a62"/>
<text x="416.3" y="576.7" font-size="9.5" fill="#231f20" textLength="17" lengthAdjust="spacingAndGlyphs" stroke="#231f20" stroke-width="0.15">e4.4</text>
<line x1="399.7" y1="589.08" x2="411.5" y2="589.08" stroke="#9a9ad0" stroke-width="1.2"/>
<polygon points="405.60,586.18 408.50,589.08 405.60,591.98 402.70,589.08" fill="#9a9ad0"/>
<text x="416.3" y="592.2800000000001" font-size="9.5" fill="#231f20" textLength="17" lengthAdjust="spacingAndGlyphs" stroke="#231f20" stroke-width="0.15">e4.7</text>
<rect x="0" y="0" width="1" height="620" fill="#6e6e6e"/>
<rect x="1" y="1" width="1" height="618" fill="#363636"/>
<rect x="2" y="1" width="516" height="1" fill="#9a9a9a"/>
<rect x="0" y="0" width="520" height="1" fill="#000000"/>
<rect x="518" y="0" width="1" height="619" fill="#333333"/>
<rect x="519" y="0" width="1" height="620" fill="#6e6e6e"/>
<rect x="1" y="618" width="518" height="1" fill="#333333"/>
<rect x="0" y="619" width="520" height="1" fill="#6e6e6e"/>
</svg></body></html>
